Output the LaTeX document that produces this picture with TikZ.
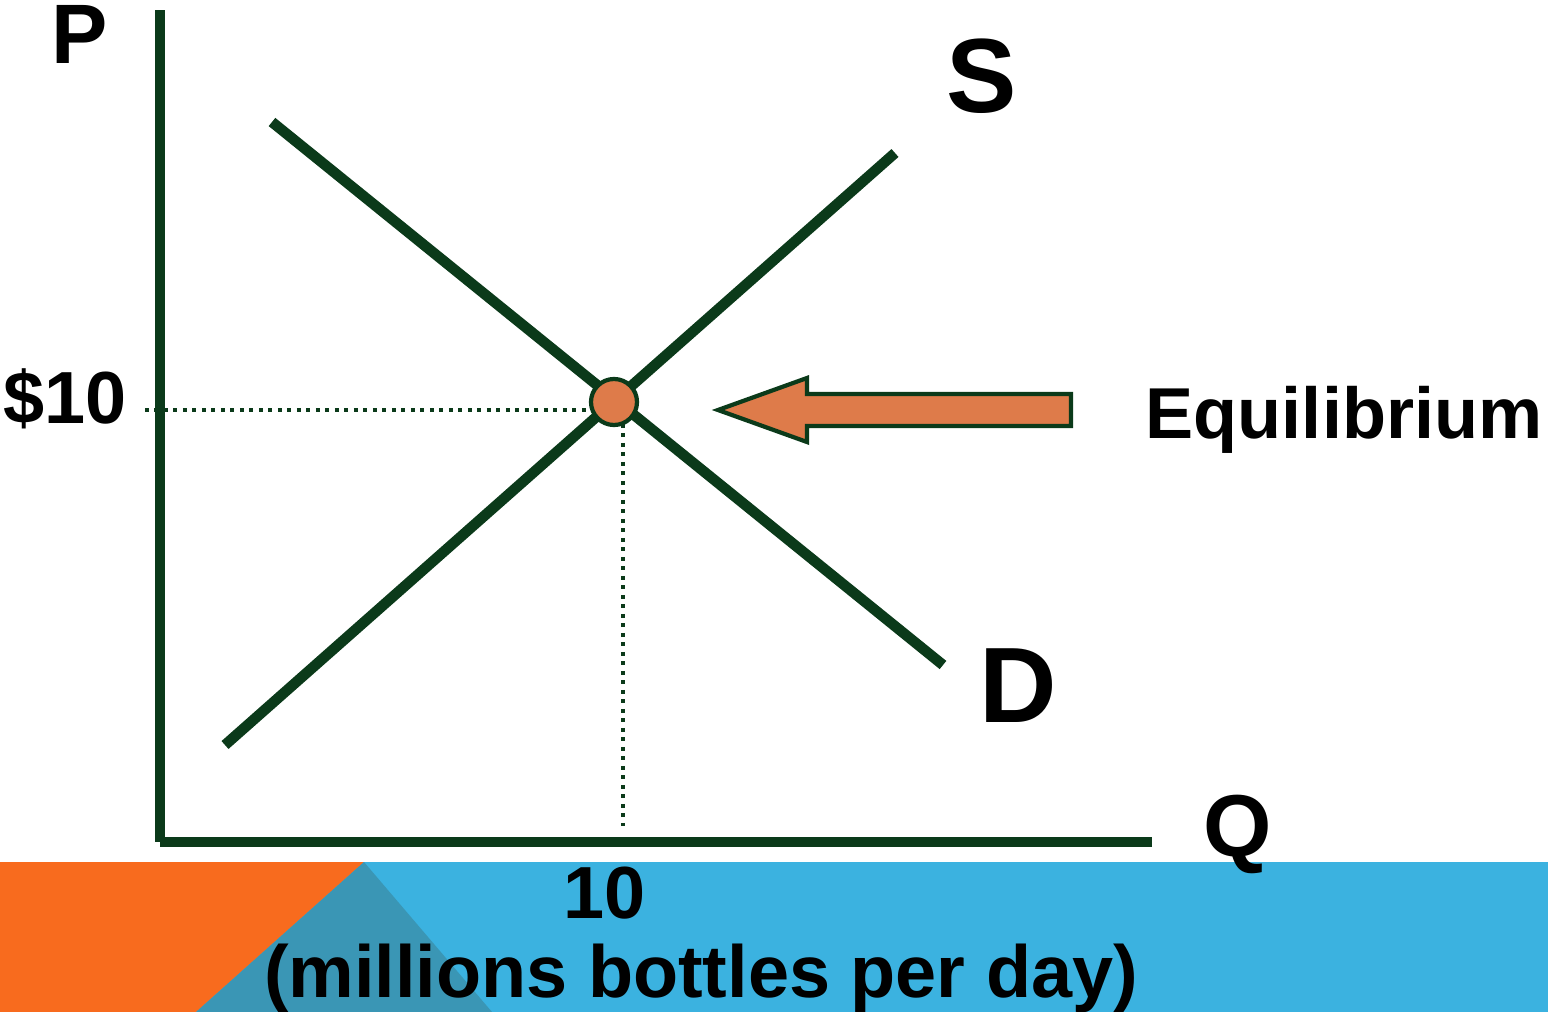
\documentclass[tikz,border=0pt]{standalone}
\usepackage{fontspec}
\setmainfont{Liberation Sans}
\usetikzlibrary{positioning, calc}
\definecolor{curve}{HTML}{0B3A1A}
\definecolor{eqfill}{HTML}{DE7B4A}
\definecolor{bandorange}{HTML}{F86B1E}
\definecolor{bandblue}{HTML}{3BB2E0}
\definecolor{banddark}{HTML}{3A96B5}

\begin{document}
\begin{tikzpicture}[
    x=0.01cm, y=-0.01cm,
    every node/.style={font=\bfseries, inner sep=0pt, outer sep=0pt},
    txt/.style={font=\bfseries\fontsize{21pt}{25pt}\selectfont, anchor=base},
    big/.style={font=\bfseries\fontsize{#1}{#1}\selectfont, anchor=base},
    axis/.style={draw=curve, line width=3.1pt},
    curveline/.style={draw=curve, line width=3pt},
    guide/.style={draw=curve, line width=1.1pt, dash pattern=on 1.1pt off 1.6pt},
    eqdot/.style={circle, draw=curve, fill=eqfill, line width=1.2pt, minimum size=0.46cm},
]
\useasboundingbox (0,0) rectangle (1548,1012);

% ---------------- band at the bottom
\fill[bandblue] (0,862) rectangle (1548,1012);
\fill[bandorange] (0,862) -- (364,862) -- (196,1012) -- (0,1012) -- cycle;
\fill[banddark] (364,862) -- (492,1012) -- (196,1012) -- cycle;

% ---------------- axes
\coordinate (top) at (160,10);
\coordinate (origin) at (160,842);
\coordinate (right) at (1152,842);
\draw[axis] (top) -- (origin);
\draw[axis] (origin) -- (right);

% ---------------- guides to the axes
\coordinate (eqc) at (614,402);
\coordinate (pstart) at (145,410);
\coordinate (pend) at (600,410);
\coordinate (qstart) at (623,424);
\coordinate (qend) at (623,826);
\draw[guide] (pstart) -- (pend);
\draw[guide] (qstart) -- (qend);

% ---------------- demand and supply
\coordinate (s0) at (225,745);
\coordinate (s1) at (895,153);
\coordinate (d0) at (272,122);
\coordinate (d1) at (943,665);
\draw[curveline] (s0) -- (s1);
\draw[curveline] (d0) -- (d1);
\node[eqdot] (eq) at (eqc) {};

% ---------------- arrow
\filldraw[draw=curve, fill=eqfill, line width=1.2pt]
    (718,410) -- (807,378) -- (807,394) -- (1071,394) -- (1071,426)
    -- (807,426) -- (807,442) -- cycle;

% ---------------- labels
\node[big=24pt] (plab) at (80,63) {P};
\node[big=30pt] (slab) at (982,113) {S};
\node[big=30.5pt] (dlab) at (1018,722) {D};
\node[big=25pt] (qlab) at (1238,856) {Q};
\node[txt] (price) at (65,423) {\$10};
\node[txt, font=\bfseries\fontsize{20.5pt}{25pt}\selectfont] (eqlab) at (1344,438) {Equilibrium};
\node[txt] (qty) at (605,918) {10};
\node[txt] (unit) at (701,997) {(millions bottles per day)};

\end{tikzpicture}
\end{document}
